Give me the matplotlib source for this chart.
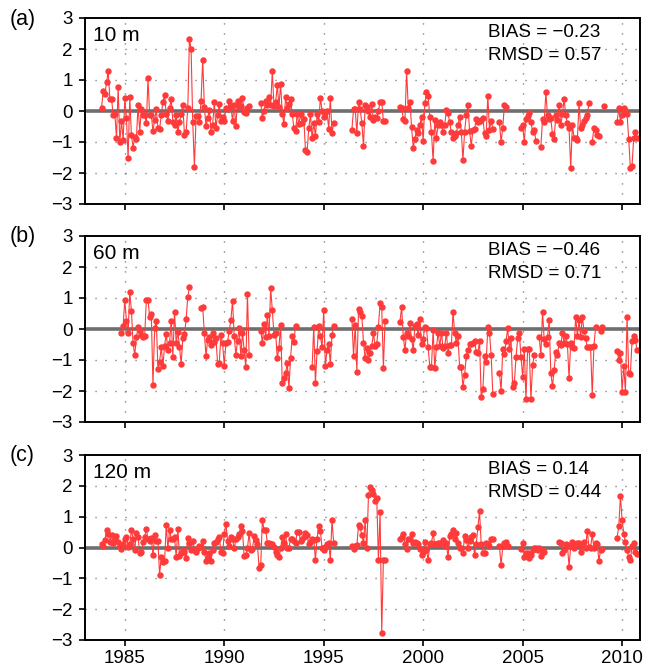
import numpy as np
import matplotlib
matplotlib.use("Agg")
import matplotlib.pyplot as plt

# ---------------- data: monthly values, month index 0 = Jan 1983 ----------------
# each entry: (start month index, consecutive monthly values)
segments_10m = [
    (10, [0.11, 0.65, 0.54, 0.92, 1.29, 0.39, 0.39, -0.13, -0.09, -0.88,
          0.78, -1.01, -0.32, -0.94, 0.41, -0.22, -1.53, 0.45, -0.77, -1.18,
          -0.83, -0.90, 0.19, -0.67, 0.06, -0.13, -0.13, -0.40, 1.05, -0.13,
          -0.13, -0.65, -0.30, 0.05, -0.56, -0.59, -0.13, 0.30, 0.52, -0.11,
          -0.32, 0.09, 0.38, -0.34, -0.45, -0.13, -0.69, -0.35, -0.10, 0.19,
          -0.77, -0.67, 0.09, 2.32, 2.00, -0.37, -1.80, -0.16, -0.16, -0.37,
          0.32, 1.66, 0.13, -0.49, -0.22, 0.04, -0.67, -0.45, 0.28, -0.54,
          -0.13, 0.22, -0.32, -0.18, -0.32, 0.09, 0.05, 0.32, 0.17, -0.32,
          0.19, -0.48, 0.32, 0.14, 0.17, 0.41, -0.04, -0.08, 0.09, 0.15]),
    (106, [0.26, -0.22, 0.0, 0.32, 0.19, 0.46, 0.19, 1.29, 0.17, 0.28,
           0.84, 0.14, 0.87, -0.09, -0.43, 0.46, 0.11, 0.21, 0.39, -0.09,
           -0.56, -0.65, -0.09, -0.43, -0.11, -0.40, -0.26, -1.26, -1.31, -0.54,
           -0.11, -0.88, -0.40, -0.80, -0.11, -0.37, 0.43, 0.0, -0.18, -0.04,
           0.0, -0.58, 0.41, -0.72, -0.40]),
    (161, [-0.60, 0.06, 0.06, -0.72, 0.28, 0.06, -0.40, -1.12, 0.19, 0.14,
           0.0, -0.18, 0.21, -0.29, -0.18, -0.24, 0.0, 0.30, 0.28, -0.32, -0.32]),
    (190, [0.14, 0.11, -0.26, -0.32, 1.29, 0.11, 0.30, -0.51, -1.18, -0.90,
           -0.61, -0.72, -0.45, -0.18, -0.97, 0.25, 0.60, 0.49, -0.18, -0.69,
           -1.61, -0.29, -0.86, -0.45, -0.37, -0.45, -0.69, -0.45, 0.03, -0.08,
           -0.37, -0.69, -0.86, -0.80, -0.72, -0.45, -0.18, -0.67, -1.58, -0.67,
           -0.13, 0.19, -0.65, -1.12, -0.61, -0.58, -0.26, -0.37, -0.32, -0.29,
           -0.24, -0.72, -0.80, 0.49, -0.61, -0.32, -0.58]),
    (250, [-0.37, -1.01, -0.54, 0.19, 0.13]),
    (263, [-0.54, -0.45, -1.01, -0.26, -0.15, -0.08, -0.34, -0.67, -0.61, -0.97]),
    (275, [-1.15, -0.26, -0.37, 0.60, -0.13, -0.26, -0.24, -0.75, -0.90, -0.13,
           -0.29, 0.19, -0.45, -0.11, 0.39, -0.13, -0.40, -0.56, -1.83, -0.45,
           -0.86, -0.86, -0.94, 0.25, -0.54, -0.45, -0.32, -0.22, -0.13, 0.25]),
    (306, [-0.99, -0.56, -0.61, -0.77, -0.80]),
    (313, [0.17]),
    (321, [-0.34, 0.09, -0.34, -0.13, 0.11, 0.03, -0.11, -0.90, -1.85, -1.76,
           -0.88, -0.69, -0.88]),
]

segments_60m = [
    (22, [-0.14, 0.10, 0.94, 0.27, -0.14, 1.20, 0.59, -0.46, -0.84, -0.27,
          0.08, -0.05, -0.20, -0.25, -0.23, 0.94, 0.94, 0.40, 0.48, -1.81,
          0.02, 0.27, -1.30, -1.05, -0.59, -1.19, -0.55, -0.16, -0.68, -0.45,
          0.27, -0.89, 0.56, -0.44, -0.09, -0.57, -1.13, -0.30, -0.16, 0.31,
          1.04, 1.34]),
    (70, [0.67, 0.72, -0.14, -0.86, -0.35, -0.27, -0.52, -0.14, -0.41, -0.30,
          -1.13, -1.09, -0.19, -0.46, -1.18, -0.44, -0.41, -0.05, 0.29, 0.91,
          -0.23, -0.84, -0.38, 0.02, -0.87, -0.12, -0.68, -1.24, 1.13, -0.84]),
    (106, [-0.05, -0.44, 0.16, -0.25, 0.45, -0.23, 1.31, 0.61, -0.19, -0.14,
           -0.95, -0.60, 0.13, -1.75, -1.59, -1.43, -1.11, -1.91, -0.95, -0.23,
           -0.41, 0.10]),
    (137, [-1.24, 0.08, -1.75, -0.70, 0.10, -0.23, -0.59, 0.61, -1.19, -0.68,
           -0.48, -1.13, -0.19, 0.10]),
    (161, [0.31, -0.87, 0.13, -1.38, 0.63, 0.56, 0.42, -0.44, -0.95, -0.62,
           -1.00, -0.76, -0.55, -0.14, -0.55, -0.48, 0.08, 0.83, 0.70, -1.27, 0.27]),
    (190, [0.24, 0.70, -0.25, -0.68, -0.14, -0.23, 0.20, -0.33, -0.68, 0.10,
           0.16, -0.19, 0.31, -0.48, -0.33, 0.05, 0.02, -0.59, -1.22, -1.22,
           -0.03, -1.27, -0.59, -0.12, -0.55, -0.12, -0.62, -0.55, -0.12, -0.76,
           -0.52, -0.52, 0.56, -0.14, -0.44, -0.23, -1.24, -1.24, -1.86, -1.48,
           -0.87, -0.68, -0.48, -0.48, -0.46, -0.38, -0.73, -0.78, -0.38, -2.18,
           -1.95, -0.87, -1.05, 0.05, -0.12, -0.84, -2.10]),
    (250, [-1.41, -1.99, -0.66, -0.81, -0.38, 0.02, -0.66, -0.30, -1.88, -1.75,
           -0.91, -0.30, -0.14, -0.89, -1.54, -0.66, -2.27, -0.66, -0.66, -2.27,
           -1.16, -0.84]),
    (274, [-0.27, -0.84, 0.56, -0.33, -0.48, -0.27, 0.29, -1.43, -1.84, -1.32,
           -0.73, -0.84, -0.44, -0.52, -0.14, -0.44, -0.23, -0.48, -1.59, -0.44,
           -0.57, -0.62, 0.40, -0.23, 0.29, -0.25, 0.40, -0.05, -0.30, -0.59,
           -0.59, -0.59, -2.13, -0.55, 0.05]),
    (311, [-0.05, 0.05]),
    (321, [-0.70, -1.00, -0.76, -2.02, -1.19, -2.02, 0.40, -1.41, -1.45, -0.38,
           -0.23, -0.35, -0.68]),
]

segments_120m = [
    (10, [0.11, 0.04, 0.24, 0.58, 0.43, 0.18, 0.40, 0.13, 0.24, 0.37,
          0.18, 0.04, -0.06, 0.11, 0.29, 0.34, 0.02, 0.11, 0.56, 0.29,
          -0.09, 0.47, 0.34, -0.19, -0.14, 0.18, 0.34, 0.61, 0.26, 0.22,
          0.32, -0.25, 0.40, 0.22, 0.22, -0.89, -0.30, -0.46, -0.43, 0.72,
          -0.03, 0.58, 0.29, 0.26, 0.34, -0.30, 0.61, -0.28, -0.17, -0.09,
          -0.14, -0.35, 0.32, 0.13, -0.09, 0.22, -0.09, -0.14, 0.0, 0.04,
          0.02, 0.20, -0.14, -0.43, -0.32, -0.19, -0.43, -0.09, 0.13, 0.18,
          0.29, 0.34, -0.14, -0.19, 0.43, 0.77, 0.22, 0.04, 0.34, 0.26,
          -0.03, 0.26, 0.34, 0.45, 0.69, 0.54, -0.28, -0.25, -0.03, 0.47,
          -0.09, -0.06, 0.37, 0.24, 0.11, -0.65, -0.57, 0.90, 0.58, 0.58,
          0.15, 0.13, 0.11, 0.11, 0.02, -0.14, -0.25, -0.32, -0.03, 0.34,
          0.13, 0.45, -0.03, -0.03, 0.29, 0.26, 0.22, 0.15, 0.50, 0.50,
          0.22, 0.29, 0.34, 0.47, 0.40, 0.11, 0.18, 0.26, 0.24, -0.39,
          0.29, 0.69, 0.54, -0.03, -0.09, 0.02, 0.11, 0.15, -0.39, 0.90, 0.15]),
    (161, [0.04, -0.06, 0.04, 0.08, 0.72, 0.65, 0.40, 0.15, 0.88, -0.03,
           1.69, 1.96, 1.85, 1.75, 1.50, 1.60, -0.39, 1.15, -2.77, -0.39, -0.39]),
    (190, [0.29, 0.34, 0.43, 0.11, -0.06, 0.26, 0.29, 0.45, 0.13, 0.18,
           0.15, 0.12, -0.05, -0.25, -0.14, 0.18, -0.09, -0.41, 0.11, 0.15,
           0.47, 0.11, 0.11, 0.13, 0.15, 0.13, 0.24, 0.04, 0.13, -0.32,
           0.37, 0.43, 0.56, 0.29, 0.47, 0.13, -0.03, -0.03, -0.19, 0.37,
           0.24, -0.03, 0.22, 0.34, 0.40, -0.25, 0.11, 0.65, 1.18, 0.11,
           -0.17, -0.19, 0.15, 0.11, 0.04, 0.26, 0.26]),
    (250, [0.04, -0.57, 0.04, 0.13, 0.18, 0.04]),
    (263, [-0.06, 0.13, -0.30, -0.19, -0.19, -0.35, -0.25, -0.09, -0.03, 0.0,
           -0.09, -0.03, -0.28, -0.09, -0.14]),
    (286, [0.18, 0.13, -0.17, -0.09, 0.11, 0.08, -0.62, 0.04, 0.18, 0.0,
           0.11, 0.13, 0.15, -0.14, 0.08, 0.18, 0.0, 0.54, 0.02, 0.0,
           0.43, -0.03, 0.13, 0.11, -0.43, -0.09, -0.06]),
    (321, [0.32, 0.69, 1.66, 0.90, 0.45, 0.18, -0.09, -0.32, -0.39, 0.04,
           0.15, -0.14, -0.22]),
]

panel_letters = ["(a)", "(b)", "(c)"]
depth_labels = ["10 m", "60 m", "120 m"]
bias_values = ["\u22120.23", "\u22120.46", "0.14"]
rmsd_values = ["0.57", "0.71", "0.44"]
x_ticks = [1985, 1990, 1995, 2000, 2005, 2010]
y_ticks = [-3, -2, -1, 0, 1, 2, 3]
START_YEAR = 1983
N_MONTHS = 336

all_segments = [segments_10m, segments_60m, segments_120m]

# ---------------- figure ----------------
plt.rcParams['font.family'] = ['Liberation Sans', 'DejaVu Sans']
W, H = 652, 666
fig = plt.figure(figsize=(W / 100, H / 100), dpi=100)

RED = '#ff3a3a'
axes_px = [(18, 204), (236, 422), (455, 640)]  # top, bottom in pixels
left_px, right_px = 85, 640

t = START_YEAR + np.arange(N_MONTHS) / 12.0

for i, (top, bot) in enumerate(axes_px):
    ax = fig.add_axes([left_px / W, 1 - bot / H, (right_px - left_px) / W, (bot - top) / H])
    series = np.full(N_MONTHS, np.nan)
    for start, vals in all_segments[i]:
        series[start:start + len(vals)] = vals

    ax.set_xlim(1983.0, 2010.9)
    ax.set_ylim(-3, 3)

    # dotted grid
    for xv in x_ticks:
        ax.axvline(xv, color='#666666', lw=1.0, dashes=(0.8, 6.4), zorder=0.5)
    for yv in [-2, -1, 1, 2]:
        ax.axhline(yv, color='#666666', lw=1.0, dashes=(0.8, 6.4), zorder=0.5)

    ax.axhline(0, color='#6e6e6e', lw=2.6, zorder=1)
    ax.plot(t, series, color=RED, lw=0.8, marker='o', ms=3.6, mec=RED, mfc=RED,
            zorder=2)

    ax.set_xticks(x_ticks)
    ax.set_yticks(y_ticks)
    ax.yaxis.set_major_formatter(matplotlib.ticker.FuncFormatter(
        lambda v, p: ("\u2212%d" % abs(v)) if v < 0 else "%d" % v))
    ax.tick_params(axis='both', direction='out', length=4, width=1.2, labelsize=13.5,
                   pad=3)
    ax.tick_params(axis='y', pad=5)
    if i < 2:
        ax.tick_params(axis='x', labelbottom=False)
    for sp in ax.spines.values():
        sp.set_linewidth(1.4)

    ax.text(0.014, 0.878, depth_labels[i], transform=ax.transAxes, fontsize=15,
            va='baseline', ha='left')
    ax.text(0.727, 0.898, "BIAS = " + bias_values[i], transform=ax.transAxes,
            fontsize=13.6, va='baseline', ha='left')
    ax.text(0.727, 0.774, "RMSD = " + rmsd_values[i], transform=ax.transAxes,
            fontsize=13.6, va='baseline', ha='left')

    fig.text(10 / W, 1 - (top + 1) / H, panel_letters[i], fontsize=15.5,
             va='center', ha='left')

fig.savefig("out.png", dpi=100)
